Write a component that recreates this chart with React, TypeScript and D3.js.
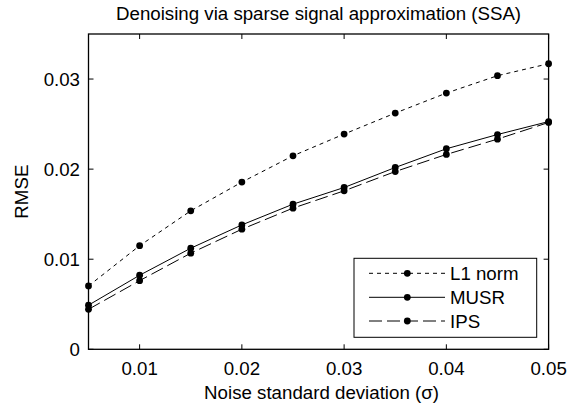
import React from "react";
import * as d3 from "d3";

const sigma = [0.005, 0.01, 0.015, 0.02, 0.025, 0.03, 0.035, 0.04, 0.045, 0.05];
const l1Norm = [0.00703, 0.0115, 0.01537, 0.01856, 0.02148, 0.02389, 0.02622, 0.02844, 0.03037, 0.0317];
const musr = [0.0049, 0.00822, 0.01122, 0.01381, 0.01611, 0.01796, 0.02018, 0.02226, 0.02384, 0.02528];
const ips = [0.00444, 0.00762, 0.01067, 0.01333, 0.01567, 0.01759, 0.01973, 0.02163, 0.02333, 0.02518];
const xTicks = [0.01, 0.02, 0.03, 0.04, 0.05];
const yTicks = [0, 0.01, 0.02, 0.03];
const seriesNames = ["L1 norm", "MUSR", "IPS"];

const W = 575, H = 405;
const L = 88.5, R = 548.6, T = 34, B = 349.3;
const FONT = "'Liberation Sans', Arial, Helvetica, sans-serif";
const FS = 18.7;

export default function App() {
  const x = d3.scaleLinear().domain([0.005, 0.05]).range([L, R]);
  const y = d3.scaleLinear().domain([0, 0.035]).range([B, T]);
  const series = [
    { name: seriesNames[0], data: l1Norm, dash: "4,4" },
    { name: seriesNames[1], data: musr, dash: "" },
    { name: seriesNames[2], data: ips, dash: "13,5" },
  ];
  const line = d3.line<number>().x((_, i) => x(sigma[i])).y((d) => y(d));
  const tick = 5;
  const lg = { x0: 354, y0: 258.3, x1: 536.7, y1: 337.3 };
  const lgRows = [273.3, 297.3, 321];
  return (
    <svg width={W} height={H} style={{ position: "absolute", left: 0, top: 0, background: "#fff" }} fontFamily={FONT}>
      <rect x={0} y={0} width={W} height={H} fill="#fff" />
      <text x={(L + R) / 2} y={20} textAnchor="middle" fontSize={FS} fill="#000">
        Denoising via sparse signal approximation (SSA)
      </text>
      {series.map((s) => (
        <g key={s.name}>
          <path d={line(s.data) || ""} fill="none" stroke="#000" strokeWidth={1} strokeDasharray={s.dash || undefined} />
          {s.data.map((v, i) => (
            <circle key={i} cx={x(sigma[i])} cy={y(v)} r={3.4} fill="#000" />
          ))}
        </g>
      ))}
      <rect x={L} y={T} width={R - L} height={B - T} fill="none" stroke="#000" strokeWidth={1.3} />
      {xTicks.map((t) => (
        <g key={"x" + t}>
          <line x1={x(t)} x2={x(t)} y1={B} y2={B - tick} stroke="#000" strokeWidth={1} />
          <line x1={x(t)} x2={x(t)} y1={T} y2={T + tick} stroke="#000" strokeWidth={1} />
          <text x={x(t)} y={375} textAnchor="middle" fontSize={FS} fill="#000">{String(t)}</text>
        </g>
      ))}
      {yTicks.map((t) => (
        <g key={"y" + t}>
          <line x1={L} x2={L + tick} y1={y(t)} y2={y(t)} stroke="#000" strokeWidth={1} />
          <line x1={R} x2={R - tick} y1={y(t)} y2={y(t)} stroke="#000" strokeWidth={1} />
          <text x={80} y={y(t) + 6.6} textAnchor="end" fontSize={FS} fill="#000">{String(t)}</text>
        </g>
      ))}
      <text x={(L + R) / 2 + 3} y={399.3} textAnchor="middle" fontSize={FS} fill="#000">
        Noise standard deviation (σ)
      </text>
      <text transform={`translate(28.3,${(T + B) / 2}) rotate(-90)`} textAnchor="middle" fontSize={FS} fill="#000">
        RMSE
      </text>
      <rect x={lg.x0} y={lg.y0} width={lg.x1 - lg.x0} height={lg.y1 - lg.y0} fill="#fff" stroke="#000" strokeWidth={1} />
      {series.map((s, i) => (
        <g key={"lg" + s.name}>
          <line x1={369} x2={445} y1={lgRows[i]} y2={lgRows[i]} stroke="#000" strokeWidth={1} strokeDasharray={s.dash || undefined} />
          <circle cx={407.3} cy={lgRows[i]} r={3.4} fill="#000" />
          <text x={450} y={lgRows[i] + 6.6} fontSize={FS} fill="#000">{s.name}</text>
        </g>
      ))}
    </svg>
  );
}
